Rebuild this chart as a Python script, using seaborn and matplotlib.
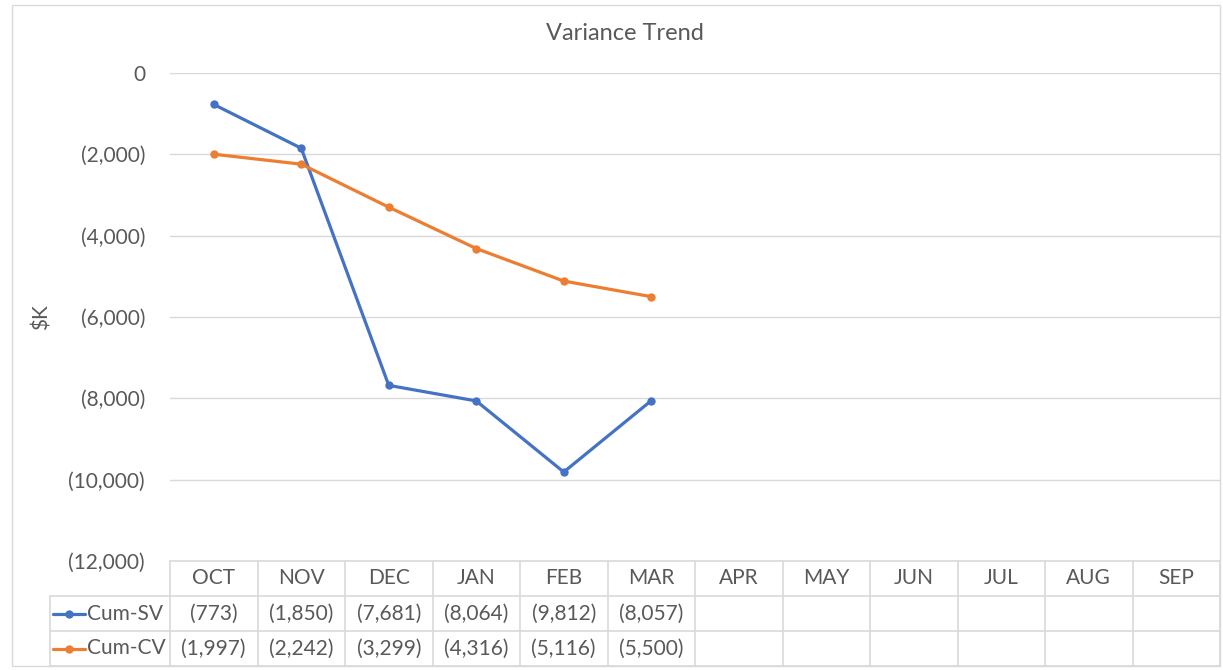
import pandas as pd
import matplotlib.pyplot as plt
import matplotlib.transforms as mtransforms
from matplotlib.lines import Line2D
from matplotlib.patches import Rectangle
import seaborn as sns

months = ['OCT', 'NOV', 'DEC', 'JAN', 'FEB', 'MAR', 'APR', 'MAY', 'JUN', 'JUL', 'AUG', 'SEP']
cum_sv = [-773, -1850, -7681, -8064, -9812, -8057]
cum_cv = [-1997, -2242, -3299, -4316, -5116, -5500]
series = ['Cum-SV', 'Cum-CV']
colors = {'Cum-SV': '#4472C4', 'Cum-CV': '#ED7D31'}

df = pd.DataFrame({
    'pos': list(range(len(cum_sv))) * 2,
    'value': cum_sv + cum_cv,
    'series': ['Cum-SV'] * len(cum_sv) + ['Cum-CV'] * len(cum_cv),
})

sns.set_theme(style='white')
plt.rcParams['font.family'] = ['Lato', 'DejaVu Sans']
txt = '#595959'
gridc = '#d9d9d9'
fs = 15

W, H = 1223, 670
fig = plt.figure(figsize=(W / 100, H / 100), dpi=100)
# plot area in pixels: x 170..1220, y 73..561
ax = fig.add_axes([170 / W, 1 - 561 / H, 1050 / W, 488 / H])

sns.lineplot(data=df, x='pos', y='value', hue='series', palette=colors, marker='o',
             markersize=6, markeredgewidth=0, linewidth=2.3, ax=ax, legend=False)

ax.set_xlim(-0.5, 11.5)
ax.set_ylim(-12000, 0)
ax.set_yticks(range(-12000, 1, 2000))
ax.set_yticklabels(['0' if v == 0 else '({:,})'.format(-v) for v in range(-12000, 1, 2000)],
                   color=txt, fontsize=fs)
ax.tick_params(axis='y', length=0, pad=18)
ax.set_xticks([])
ax.set_xlabel('')
ax.set_ylabel('')
for v in range(-10000, 1, 2000):
    ax.axhline(v, color=gridc, lw=1, zorder=0)
for s in ax.spines.values():
    s.set_visible(False)

fig.text(625 / W, 1 - 33 / H, 'Variance Trend', color=txt, fontsize=17, ha='center', va='center')
fig.text(42 / W, 1 - 317 / H, r'\$K', color=txt, fontsize=fs, rotation=90, ha='center', va='center')

# data table under the plot
trans = mtransforms.blended_transform_factory(ax.transData, ax.transAxes)
rh = 35 / 488
leg_left = -0.5 - 120 / 87.5
n = len(months)
kw = dict(transform=trans, color=gridc, lw=1.2, clip_on=False)
ax.add_line(Line2D([-0.5, 11.5], [0, 0], **kw))
for r in (1, 2, 3):
    ax.add_line(Line2D([leg_left, 11.5], [-r * rh, -r * rh], **kw))
for i in range(n + 1):
    ax.add_line(Line2D([i - 0.5, i - 0.5], [0, -3 * rh], **kw))
ax.add_line(Line2D([leg_left, leg_left], [-rh, -3 * rh], **kw))

for i, m in enumerate(months):
    ax.text(i, -0.5 * rh, m, transform=trans, ha='center', va='center', color=txt, fontsize=fs)
for r, (name, vals) in enumerate(zip(series, [cum_sv, cum_cv])):
    y = -(r + 1.5) * rh
    for i, v in enumerate(vals):
        ax.text(i, y, '({:,})'.format(-v), transform=trans, ha='center', va='center',
                color=txt, fontsize=fs)
    ax.add_line(Line2D([leg_left + 0.034, leg_left + 0.40], [y, y], transform=trans,
                       color=colors[name], lw=2.3, clip_on=False))
    ax.add_line(Line2D([leg_left + 0.217], [y], transform=trans, color=colors[name],
                       marker='o', markersize=6, markeredgewidth=0, clip_on=False))
    ax.text(leg_left + 0.42, y, name, transform=trans, ha='left', va='center',
            color=txt, fontsize=fs)

fig.patches.append(Rectangle((12 / W, 1 - 666 / H), 1208 / W, 661 / H, transform=fig.transFigure,
                             fill=False, edgecolor=gridc, lw=1))

fig.savefig('out.png', dpi=100)
